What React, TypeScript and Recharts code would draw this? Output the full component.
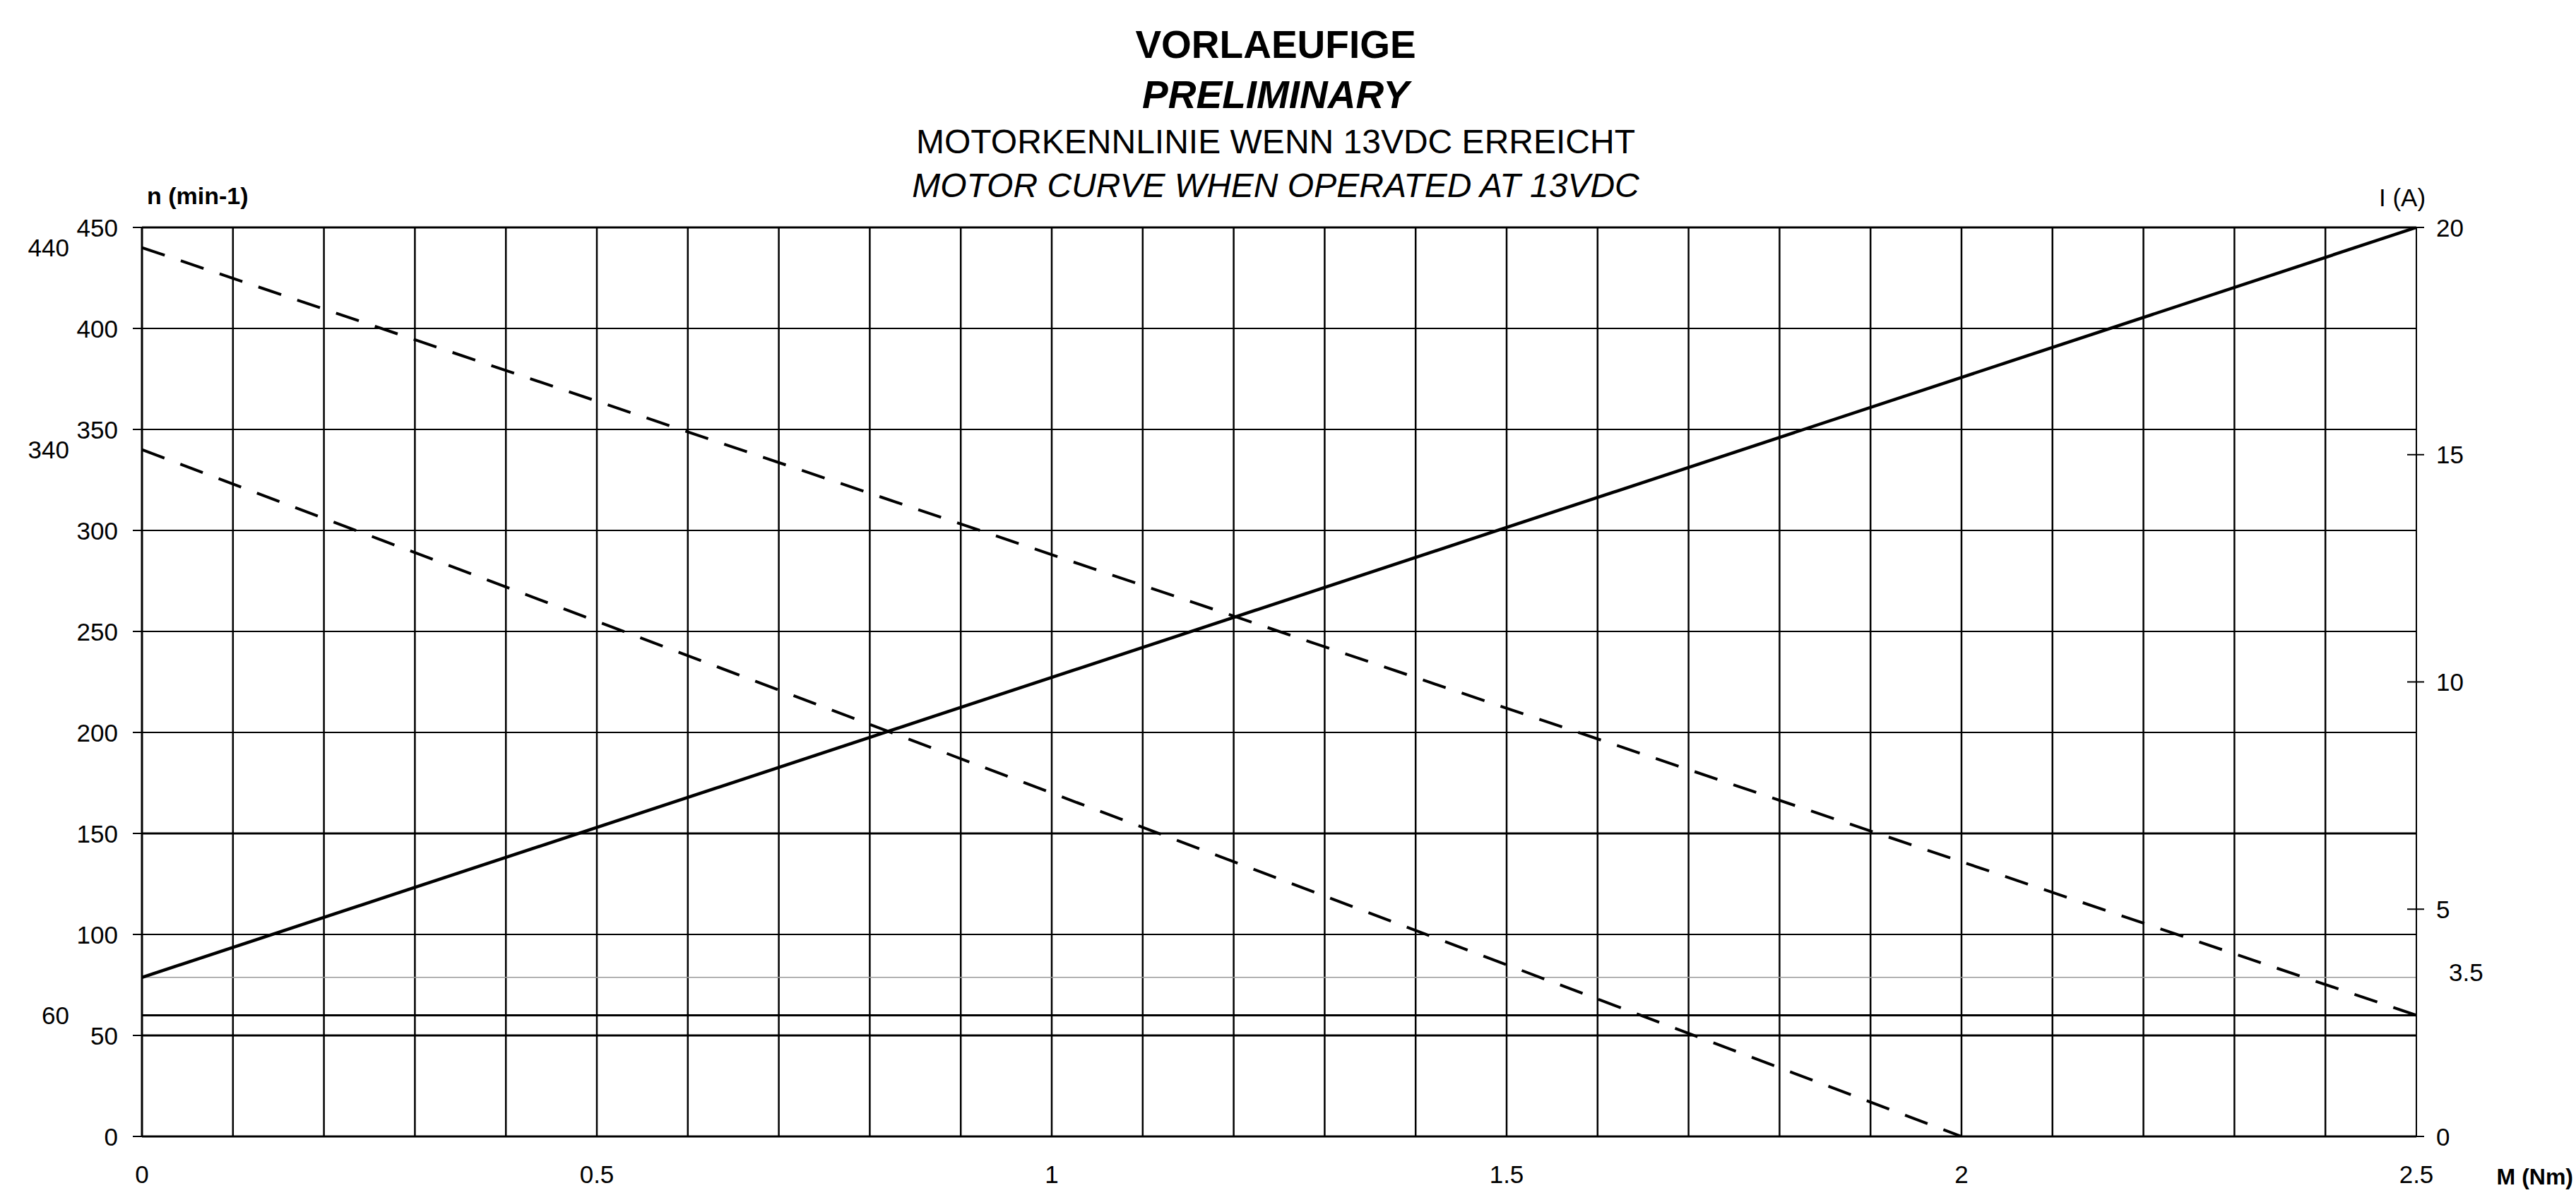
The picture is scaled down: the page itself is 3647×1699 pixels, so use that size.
import React from 'react';
import { LineChart, Line, XAxis, YAxis, ReferenceLine } from 'recharts';

// speed curves n (min-1) over torque M (Nm)
const speedHighM = [0, 2.5];
const speedHighN = [440, 60];
const speedLowM = [0, 2.0];
const speedLowN = [340, 0];
// current curve I (A) over torque M (Nm)
const currentM = [0, 2.5];
const currentI = [3.5, 20];

const xTicks = [0, 0.5, 1, 1.5, 2, 2.5];
const nTicks = [0, 50, 100, 150, 200, 250, 300, 350, 400, 450];
const nExtraTicks = [60, 340, 440];
const iTicks = [0, 5, 10, 15, 20];
const iExtraTicks = [3.5];
const mGrid = [0.1, 0.2, 0.3, 0.4, 0.5, 0.6, 0.7, 0.8, 0.9, 1.0, 1.1, 1.2, 1.3, 1.4, 1.5, 1.6, 1.7, 1.8, 1.9, 2.0, 2.1, 2.2, 2.3, 2.4];
const nRefLine = 60;
const iRefLine = 3.5;

const titleLines = [
  { text: 'VORLAEUFIGE', top: 36, size: 55, bold: true, italic: false },
  { text: 'PRELIMINARY', top: 107, size: 55, bold: true, italic: true },
  { text: 'MOTORKENNLINIE WENN 13VDC ERREICHT', top: 177, size: 48, bold: false, italic: false },
  { text: 'MOTOR CURVE WHEN OPERATED AT 13VDC', top: 239, size: 48, bold: false, italic: true },
];

const FONT = '"Liberation Sans", Arial, sans-serif';

const toSeries = (ms: number[], vs: number[], key: string) =>
  ms.map((m, idx) => ({ m, [key]: vs[idx] }));

const LeftTick = (props: any) => {
  const { x, y, payload } = props;
  const v = payload.value;
  if (nExtraTicks.includes(v)) {
    return (
      <text x={x - 103} y={y} textAnchor="end" dominantBaseline="central" fontSize={35} fontFamily={FONT} fill="#000">
        {v}
      </text>
    );
  }
  return (
    <g>
      <line x1={x - 13} x2={x} y1={y} y2={y} stroke="#000" strokeWidth={2} />
      <text x={x - 34} y={y} textAnchor="end" dominantBaseline="central" fontSize={35} fontFamily={FONT} fill="#000">
        {v}
      </text>
    </g>
  );
};

const RightTick = (props: any) => {
  const { x, y, payload } = props;
  const v = payload.value;
  if (iExtraTicks.includes(v)) {
    return (
      <text x={x + 46} y={y - 7} textAnchor="start" dominantBaseline="central" fontSize={35} fontFamily={FONT} fill="#000">
        {v}
      </text>
    );
  }
  const edge = v === 0 || v === 20;
  return (
    <g>
      <line x1={edge ? x : x - 13} x2={x + 11} y1={y} y2={y} stroke="#000" strokeWidth={2} />
      <text x={x + 28} y={y} textAnchor="start" dominantBaseline="central" fontSize={35} fontFamily={FONT} fill="#000">
        {v}
      </text>
    </g>
  );
};

export default function App() {
  const high = toSeries(speedHighM, speedHighN, 'n');
  const low = toSeries(speedLowM, speedLowN, 'n');
  const current = toSeries(currentM, currentI, 'i');

  return (
    <div
      style={{
        position: 'absolute',
        left: 0,
        top: 0,
        width: 3647,
        height: 1699,
        overflow: 'hidden',
        background: '#fff',
        fontFamily: FONT,
        color: '#000',
      }}
    >
      {titleLines.map((t) => (
        <div
          key={t.text}
          style={{
            position: 'absolute',
            left: 1806,
            top: t.top,
            transform: 'translateX(-50%)',
            whiteSpace: 'nowrap',
            fontSize: t.size,
            lineHeight: 1,
            fontWeight: t.bold ? 'bold' : 'normal',
            fontStyle: t.italic ? 'italic' : 'normal',
          }}
        >
          {t.text}
        </div>
      ))}
      <div style={{ position: 'absolute', left: 208, top: 260, fontSize: 34, lineHeight: 1, fontWeight: 'bold', whiteSpace: 'nowrap' }}>
        n (min-1)
      </div>
      <div style={{ position: 'absolute', left: 3368, top: 262, fontSize: 35, lineHeight: 1, whiteSpace: 'nowrap' }}>
        I (A)
      </div>
      <div style={{ position: 'absolute', right: 4, top: 1650, fontSize: 32, lineHeight: 1, fontWeight: 'bold', whiteSpace: 'nowrap' }}>
        M (Nm)
      </div>

      <LineChart width={3647} height={1699} margin={{ top: 322, right: 76, bottom: 30, left: 51 }}>
        <XAxis
          dataKey="m"
          type="number"
          domain={[0, 2.5]}
          ticks={xTicks}
          interval={0}
          tickLine={false}
          axisLine={false}
          tickSize={0}
          tickMargin={41}
          height={60}
          tick={{ fontSize: 35, fontFamily: FONT, fill: '#000' }}
          allowDataOverflow
        />
        <YAxis
          yAxisId="left"
          type="number"
          domain={[0, 450]}
          ticks={[...nTicks, ...nExtraTicks].sort((a, b) => a - b)}
          interval={0}
          width={150}
          tickSize={0}
          tickMargin={0}
          tickLine={false}
          axisLine={{ stroke: '#000', strokeWidth: 3 }}
          tick={<LeftTick />}
          allowDataOverflow
        />
        <YAxis
          yAxisId="right"
          orientation="right"
          type="number"
          domain={[0, 20]}
          ticks={[...iTicks, ...iExtraTicks].sort((a, b) => a - b)}
          interval={0}
          width={150}
          tickSize={0}
          tickMargin={0}
          tickLine={false}
          axisLine={{ stroke: '#000', strokeWidth: 2 }}
          tick={<RightTick />}
          allowDataOverflow
        />

        {mGrid.map((m) => (
          <ReferenceLine key={`vx${m}`} x={m} yAxisId="left" stroke="#000" strokeWidth={2.5} />
        ))}
        {nTicks.map((n) => (
          <ReferenceLine
            key={`hy${n}`}
            y={n}
            yAxisId="left"
            stroke="#000"
            strokeWidth={n === 50 || n === 150 || n === 0 || n === 450 ? 3 : 2}
          />
        ))}
        <ReferenceLine y={nRefLine} yAxisId="left" stroke="#000" strokeWidth={3} />
        <ReferenceLine y={iRefLine} yAxisId="right" stroke="#999" strokeWidth={1.5} />

        <Line
          data={high}
          dataKey="n"
          yAxisId="left"
          stroke="#000"
          strokeWidth={4}
          strokeDasharray="34 24"
          dot={false}
          activeDot={false}
          isAnimationActive={false}
        />
        <Line
          data={low}
          dataKey="n"
          yAxisId="left"
          stroke="#000"
          strokeWidth={4}
          strokeDasharray="34 24"
          dot={false}
          activeDot={false}
          isAnimationActive={false}
        />
        <Line
          data={current}
          dataKey="i"
          yAxisId="right"
          stroke="#000"
          strokeWidth={4.5}
          dot={false}
          activeDot={false}
          isAnimationActive={false}
        />
      </LineChart>
    </div>
  );
}
